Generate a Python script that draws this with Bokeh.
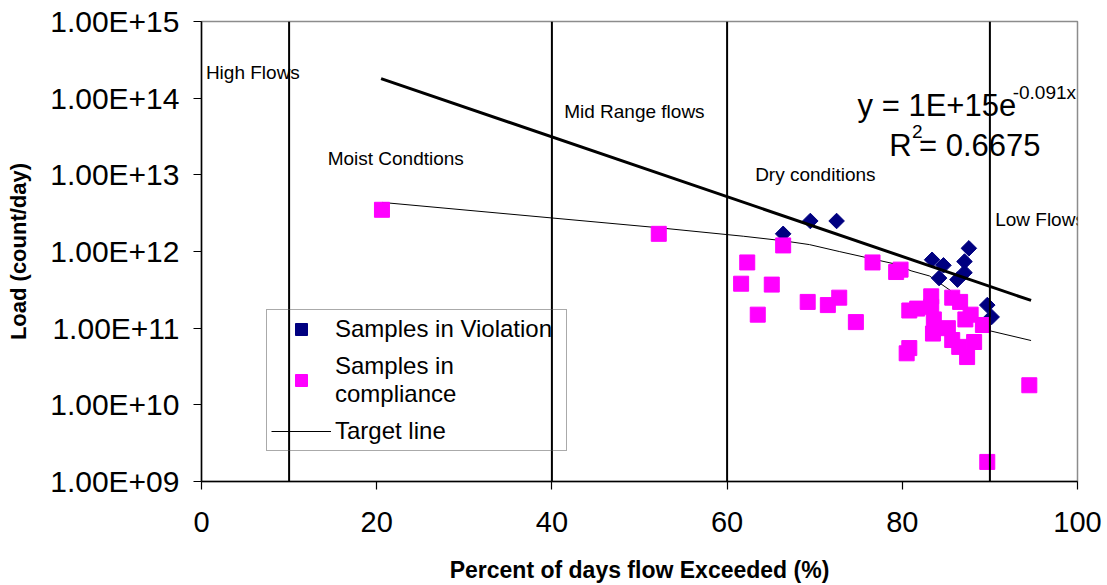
import math
from bokeh.plotting import figure
from bokeh.models import (Range1d, FixedTicker, CustomJSTickFormatter, Label, Legend,
                          LegendItem, Span)
from bokeh.embed import file_html
from bokeh.resources import INLINE

# ---------------- data ----------------
violation_x = [66.4, 69.5, 72.5, 83.4, 84.7, 84.2, 87.6, 87.1, 87.1, 86.3, 89.7, 90.2]
violation_y = [1.7e12, 2.5e12, 2.5e12, 7.8e11, 6.6e11, 4.5e11, 1.1e12, 7.4e11, 5.3e11,
               4.3e11, 2.0e11, 1.4e11]

compliance_x = [20.6, 52.2, 66.4, 62.3, 61.6, 65.1, 63.5, 69.2, 71.5, 72.8, 74.7, 76.6,
                79.3, 79.8, 80.8, 81.7, 83.3, 83.3, 83.6, 85.2, 83.5, 85.7, 85.7, 86.6,
                87.2, 87.8, 89.2, 86.5, 88.2, 87.4, 80.8, 80.5, 94.5, 89.7]
compliance_y = [3.5e12, 1.7e12, 1.2e12, 7.2e11, 3.8e11, 3.7e11, 1.5e11, 2.2e11, 2.0e11,
                2.5e11, 1.2e11, 7.2e11, 5.4e11, 5.8e11, 1.7e11, 1.8e11, 2.6e11, 1.9e11,
                1.3e11, 1.0e11, 8.5e10, 7.0e10, 2.5e11, 2.2e11, 1.3e11, 1.5e11, 1.1e11,
                5.7e10, 6.6e10, 4.2e10, 5.5e10, 4.7e10, 1.8e10, 1.8e9]

target_x = [20.6, 52.2, 61.9, 66.4, 69.4, 72.8, 79.1, 81.0, 83.1, 85.5, 87.8, 89.9, 94.7]
target_y = [4.37e12, 2.04e12, 1.58e12, 1.38e12, 1.23e12, 1.0e12, 6.9e11, 5.6e11, 4.8e11,
            3.1e11, 1.7e11, 9.3e10, 6.9e10]

trend_x = [20.5, 94.7]
trend_y = [1.8e14, 2.3e11]

flow_breaks = [10, 40, 60, 90]

x_ticks = [0, 20, 40, 60, 80, 100]
y_ticks = [1e9, 1e10, 1e11, 1e12, 1e13, 1e14, 1e15]
y_tick_labels = ["1.00E+09", "1.00E+10", "1.00E+11", "1.00E+12", "1.00E+13",
                 "1.00E+14", "1.00E+15"]

FONT = "Liberation Sans"

p = figure(width=1107, height=585, output_backend="svg", toolbar_location=None,
           x_range=Range1d(0, 100), y_range=Range1d(1e9, 1e15), y_axis_type="log",
           min_border_left=201, min_border_right=30, min_border_top=21, min_border_bottom=103)
p.background_fill_color = "white"
p.border_fill_color = "white"
p.outline_line_color = "#8c8c8c"
p.outline_line_width = 1.5
p.grid.visible = False

# axes
p.xaxis.ticker = FixedTicker(ticks=x_ticks)
p.yaxis.ticker = FixedTicker(ticks=y_ticks)
p.yaxis.formatter = CustomJSTickFormatter(args=dict(labels=y_tick_labels),
                                          code="return labels[Math.round(Math.log10(tick)) - 9];")
for ax in (p.xaxis[0], p.yaxis[0]):
    ax.axis_line_color = "black"
    ax.axis_line_width = 1.5
    ax.major_tick_line_color = "black"
    ax.major_tick_line_width = 1.2
    ax.major_tick_out = 8
    ax.major_tick_in = 0
    ax.minor_tick_out = 0
    ax.minor_tick_in = 0
    ax.major_label_text_font = FONT
    ax.major_label_text_color = "black"
    ax.axis_label_text_font = FONT
    ax.axis_label_text_font_style = "bold"
    ax.axis_label_text_color = "black"

p.xaxis.major_label_text_font_size = "29px"
p.yaxis.major_label_text_font_size = "30px"
p.xaxis.axis_label = "Percent of days flow Exceeded (%)"
p.xaxis.axis_label_text_font_size = "23px"
p.xaxis.major_label_standoff = 22
p.xaxis.axis_label_standoff = 22
p.yaxis.axis_label = "Load (count/day)"
p.yaxis.axis_label_text_font_size = "22px"
p.yaxis.major_label_standoff = 14
p.yaxis.axis_label_standoff = 16

# flow-zone boundaries
for b in flow_breaks:
    p.add_layout(Span(location=b, dimension="height", line_color="black", line_width=2))

# series
r_target = p.line(target_x, target_y, line_color="black", line_width=1)
r_viol = p.scatter(violation_x, violation_y, marker="square", angle=math.pi / 4, size=11,
                   fill_color="#000080", line_color="#000080")
r_comp = p.scatter(compliance_x, compliance_y, marker="square", size=15,
                   fill_color="#FF00FF", line_color="#FF00FF")
p.line(trend_x, trend_y, line_color="black", line_width=3)

# annotations
def lab(x, logy, text, size):
    p.add_layout(Label(x=x, y=10 ** logy, text=text, text_font=FONT,
                       text_font_size=size, text_baseline="middle", text_align="left",
                       text_color="black"))

lab(0.5, 14.34, "High Flows", "19px")
lab(14.4, 13.21, "Moist Condtions", "19px")
lab(41.4, 13.82, "Mid Range flows", "19px")
lab(63.2, 13.00, "Dry conditions", "19px")
lab(90.6, 12.42, "Low Flows", "19px")
lab(74.9, 13.90, "y = 1E+15e", "31px")
lab(92.6, 14.08, "-0.091x", "19px")
lab(78.5, 13.38, "R", "31px")
lab(81.1, 13.56, "2", "19px")
lab(81.9, 13.38, " = 0.6675", "31px")

legend = Legend(items=[
    LegendItem(label="Samples in Violation", renderers=[r_viol]),
    LegendItem(label="Samples in\ncompliance", renderers=[r_comp]),
    LegendItem(label="Target line", renderers=[r_target]),
], location=(65, 30))
legend.label_text_font = FONT
legend.label_text_font_size = "24px"
legend.label_text_color = "black"
legend.label_text_line_height = 1.1
legend.label_width = 227
legend.glyph_width = 60
legend.glyph_height = 30
legend.label_standoff = 4
legend.padding = 4
legend.spacing = 8
legend.margin = 0
legend.border_line_color = "#555555"
legend.border_line_width = 1
legend.background_fill_alpha = 0
p.add_layout(legend, "center")

open("out.html", "w").write(file_html(p, INLINE))
